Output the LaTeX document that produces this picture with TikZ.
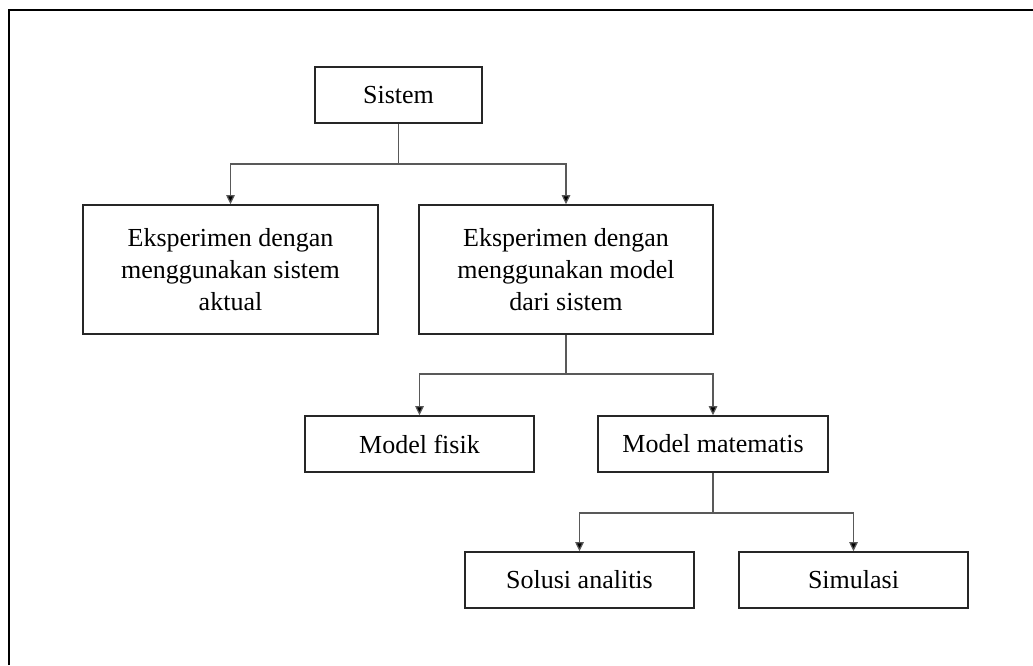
\documentclass[tikz,border=0pt]{standalone}
\usepackage{fontspec}
\setmainfont{Liberation Serif}
\usetikzlibrary{arrows.meta}
\begin{document}
\begin{tikzpicture}[x=1pt,y=-1pt,
  box/.style={draw=black!85,line width=1.7pt,inner sep=0pt,align=center,
    font=\fontsize{26}{31.7}\selectfont,text=black},
  conn/.style={draw=black!65,line width=1.2pt},
  arr/.style={conn,-{Triangle[length=9pt,width=8.5pt,fill=black]}}]
\useasboundingbox (0,0) rectangle (1033,665);
\draw[line width=2.6pt,black] (9,665) -- (9,10) -- (1033,10);
\node[box,minimum width=167pt,minimum height=56pt] (sistem) at (398.5,95) {Sistem};
\node[box,minimum width=295pt,minimum height=129pt] (aktual) at (230.5,269.5) {Eksperimen dengan\\menggunakan sistem\\aktual};
\node[box,minimum width=294pt,minimum height=129pt] (model) at (566,269.5) {Eksperimen dengan\\menggunakan model\\dari sistem};
\node[box,minimum width=229pt,minimum height=56pt] (fisik) at (419.5,444) {Model fisik};
\node[box,minimum width=230pt,minimum height=56pt] (mat) at (713,444) {Model matematis};
\node[box,minimum width=229pt,minimum height=56pt] (solusi) at (579.5,580) {Solusi analitis};
\node[box,minimum width=229pt,minimum height=56pt] (simulasi) at (853.5,580) {Simulasi};
\coordinate (j1) at (398.5,164);
\coordinate (j2) at (566,374);
\coordinate (j3) at (713,513);
\draw[conn] (sistem.south) -- (j1);
\draw[arr] (j1) -| (aktual.north);
\draw[arr] (j1) -| (model.north);
\draw[conn] (model.south) -- (j2);
\draw[arr] (j2) -| (fisik.north);
\draw[arr] (j2) -| (mat.north);
\draw[conn] (mat.south) -- (j3);
\draw[arr] (j3) -| (solusi.north);
\draw[arr] (j3) -| (simulasi.north);
\end{tikzpicture}
\end{document}
